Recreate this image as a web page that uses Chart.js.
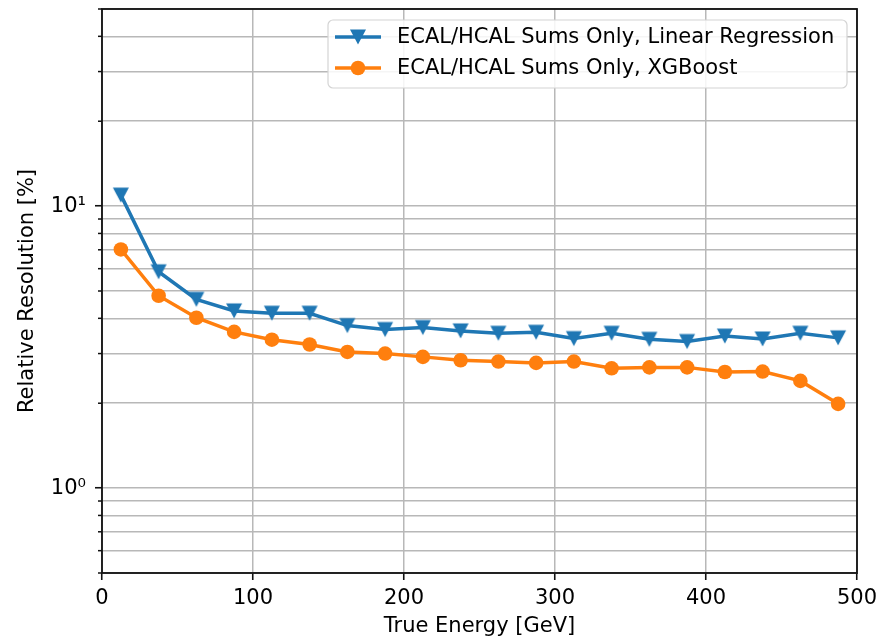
<!DOCTYPE html>
<html>
<head>
<meta charset="utf-8">
<script src="https://cdn.jsdelivr.net/npm/chart.js@4.4.0/dist/chart.umd.min.js"></script>
<style>
  html, body { margin: 0; padding: 0; background: #fff; }
  #wrap { width: 891px; height: 637px; }
</style>
</head>
<body>
<div id="wrap"><canvas id="c" width="891" height="637"></canvas></div>
<script>
// Energy bin centres [GeV]
const energyBins = [12.5, 37.5, 62.5, 87.5, 112.5, 137.5, 162.5, 187.5, 212.5, 237.5,
                    262.5, 287.5, 312.5, 337.5, 362.5, 387.5, 412.5, 437.5, 462.5, 487.5];

// Relative resolution [%] per bin
const linearRegression = [10.94, 5.85, 4.67, 4.25, 4.17, 4.17, 3.77, 3.65, 3.71, 3.61,
                          3.54, 3.57, 3.39, 3.54, 3.37, 3.31, 3.46, 3.38, 3.54, 3.41];
const xgboost = [7.02, 4.81, 4.02, 3.58, 3.36, 3.23, 3.04, 3.00, 2.92, 2.84,
                 2.81, 2.78, 2.81, 2.66, 2.68, 2.68, 2.58, 2.59, 2.40, 1.99];

const seriesNames = ['ECAL/HCAL Sums Only, Linear Regression', 'ECAL/HCAL Sums Only, XGBoost'];

// Axis ticks
const xTicks = [0, 100, 200, 300, 400, 500];
const yGridValues = [0.5, 0.6, 0.7, 0.8, 0.9, 1, 2, 3, 4, 5, 6, 7, 8, 9, 10, 20, 30, 40, 50];
const yLabels = { 1: '10\u2070', 10: '10\u00B9' };

const BLUE = '#1f77b4';
const ORANGE = '#ff7f0e';
const FONT = { family: '"DejaVu Sans", sans-serif', size: 21 };

// Downward triangle marker, centred on its bounding box
function makeTriangle(color) {
  const cv = document.createElement('canvas');
  cv.width = 20; cv.height = 20;
  const c = cv.getContext('2d');
  c.fillStyle = color;
  c.beginPath();
  c.moveTo(2, 2.5); c.lineTo(18, 2.5); c.lineTo(10, 17.5); c.closePath();
  c.fill();
  return cv;
}
const triMarker = makeTriangle(BLUE);

const frameAndLegend = {
  id: 'frameAndLegend',
  afterDraw(chart) {
    const { ctx, chartArea: a, scales: { y } } = chart;
    ctx.save();
    // minor y ticks
    ctx.strokeStyle = '#111';
    ctx.lineWidth = 1.5;
    yGridValues.forEach(v => {
      if (yLabels[v]) return;
      const py = y.getPixelForValue(v);
      ctx.beginPath();
      ctx.moveTo(a.left - 4, py);
      ctx.lineTo(a.left, py);
      ctx.stroke();
    });
    // axes frame
    ctx.lineWidth = 1.8;
    ctx.strokeRect(a.left, a.top, a.right - a.left, a.bottom - a.top);

    // legend
    const bx = a.right - 529, by = a.top + 11, bw = 519, bh = 68, r = 5;
    ctx.beginPath();
    ctx.moveTo(bx + r, by);
    ctx.arcTo(bx + bw, by, bx + bw, by + bh, r);
    ctx.arcTo(bx + bw, by + bh, bx, by + bh, r);
    ctx.arcTo(bx, by + bh, bx, by, r);
    ctx.arcTo(bx, by, bx + bw, by, r);
    ctx.closePath();
    ctx.fillStyle = 'rgba(255,255,255,0.85)';
    ctx.fill();
    ctx.strokeStyle = '#d4d4d4';
    ctx.lineWidth = 1.2;
    ctx.stroke();

    const rows = [
      { y: by + 17, color: BLUE, label: seriesNames[0], tri: true },
      { y: by + 48, color: ORANGE, label: seriesNames[1], tri: false }
    ];
    rows.forEach(row => {
      ctx.strokeStyle = row.color;
      ctx.lineWidth = 3.5;
      ctx.beginPath();
      ctx.moveTo(bx + 7, row.y);
      ctx.lineTo(bx + 53, row.y);
      ctx.stroke();
      if (row.tri) {
        ctx.drawImage(triMarker, bx + 30 - 10, row.y - 10);
      } else {
        ctx.fillStyle = row.color;
        ctx.beginPath();
        ctx.arc(bx + 30, row.y, 7.3, 0, Math.PI * 2);
        ctx.fill();
      }
      ctx.fillStyle = '#000';
      ctx.font = '21px "DejaVu Sans", sans-serif';
      ctx.textBaseline = 'middle';
      ctx.textAlign = 'left';
      ctx.fillText(row.label, bx + 69, row.y + 1);
    });
    ctx.restore();
  }
};

const toPoints = vals => energyBins.map((x, i) => ({ x: x, y: vals[i] }));

new Chart(document.getElementById('c'), {
  type: 'line',
  data: {
    datasets: [
      {
        label: seriesNames[0],
        data: toPoints(linearRegression),
        borderColor: BLUE,
        backgroundColor: BLUE,
        borderWidth: 3.5,
        pointStyle: triMarker,
        pointRadius: 10,
        tension: 0
      },
      {
        label: seriesNames[1],
        data: toPoints(xgboost),
        borderColor: ORANGE,
        backgroundColor: ORANGE,
        borderWidth: 3.5,
        pointStyle: 'circle',
        pointRadius: 7.3,
        pointBorderWidth: 0,
        tension: 0
      }
    ]
  },
  options: {
    responsive: false,
    animation: false,
    layout: { autoPadding: false, padding: { left: 0, right: 34, top: 9, bottom: 0 } },
    plugins: { legend: { display: false }, tooltip: { enabled: false } },
    scales: {
      x: {
        type: 'linear',
        min: 0,
        max: 500,
        afterBuildTicks: s => { s.ticks = xTicks.map(v => ({ value: v })); },
        afterFit: s => { s.height = 64; s.paddingLeft = 0; s.paddingRight = 0; },
        border: { display: false },
        grid: { color: '#b8b8b8', lineWidth: 1.5, tickLength: 7, tickColor: '#111', tickWidth: 1.6 },
        ticks: { color: '#000', font: FONT, padding: 6, maxRotation: 0, autoSkip: false },
        title: { display: true, text: 'True Energy [GeV]', color: '#000', font: FONT, padding: { top: 0, bottom: -2 } }
      },
      y: {
        type: 'logarithmic',
        min: 0.5,
        max: 50,
        afterBuildTicks: s => { s.ticks = yGridValues.map(v => ({ value: v })); },
        afterFit: s => { s.width = 102; s.paddingTop = 0; s.paddingBottom = 0; },
        border: { display: false },
        grid: {
          color: '#b8b8b8', lineWidth: 1.5, tickLength: 7, tickWidth: 1.6,
          tickColor: c => (c.tick && yLabels[c.tick.value]) ? '#111' : 'rgba(0,0,0,0)'
        },
        ticks: { color: '#000', font: FONT, padding: 9, autoSkip: false, callback: v => yLabels[v] || '' },
        title: { display: true, text: 'Relative Resolution [%]', color: '#000', font: FONT, padding: { top: 15, bottom: 0 } }
      }
    }
  },
  plugins: [frameAndLegend]
});
</script>
</body>
</html>
